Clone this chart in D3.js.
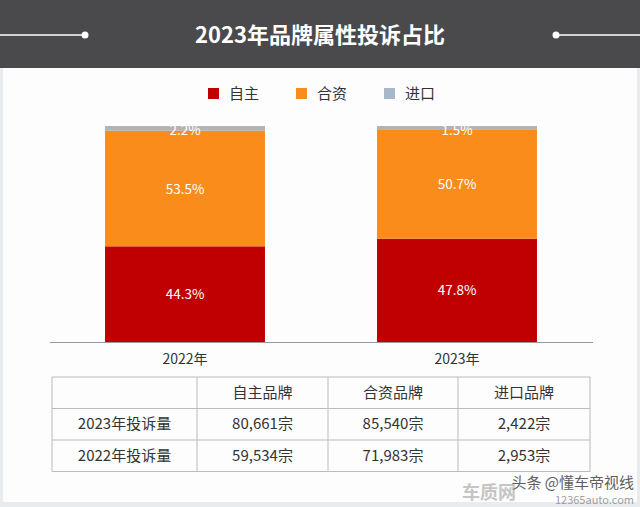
<!DOCTYPE html>
<html><head><meta charset="utf-8">
<script src="https://cdn.jsdelivr.net/npm/d3@7"></script>
<style>html,body{margin:0;padding:0;background:#fff;}svg{display:block;}</style>
</head><body>
<svg id="c" width="640" height="507"></svg>
<script>
const title = "2023年品牌属性投诉占比";
const years = ["2022年", "2023年"];
const seriesNames = ["自主", "合资", "进口"];
const ownShare = [44.3, 47.8];
const jvShare = [53.5, 50.7];
const importShare = [2.2, 1.5];
const colors = ["#C00000", "#FA8C1C", "#A9B8C9"];
const tableHeader = ["", "自主品牌", "合资品牌", "进口品牌"];
const tableRowLabels = ["2023年投诉量", "2022年投诉量"];
const count2023 = ["80,661宗", "85,540宗", "2,422宗"];
const count2022 = ["59,534宗", "71,983宗", "2,953宗"];

const svg = d3.select("#c");
const font = "'Noto Sans CJK SC','Noto Sans',sans-serif";

// background frame
svg.append("rect").attr("x",0).attr("y",0).attr("width",640).attr("height",507).attr("fill","#e9ecef");
svg.append("rect").attr("x",3).attr("y",68).attr("width",634).attr("height",434).attr("fill","#fdfdfd");

// header
svg.append("rect").attr("x",0).attr("y",0).attr("width",640).attr("height",68).attr("fill","#4a4a4c");
svg.append("text").attr("x",320).attr("y",43).attr("text-anchor","middle")
  .attr("font-family",font).attr("font-weight","bold").attr("font-size",22).attr("fill","#fff").text(title);
svg.append("line").attr("x1",0).attr("x2",85).attr("y1",35).attr("y2",35).attr("stroke","#fff").attr("stroke-width",1.5);
svg.append("circle").attr("cx",85).attr("cy",35).attr("r",3.5).attr("fill","#fff");
svg.append("line").attr("x1",556).attr("x2",640).attr("y1",35).attr("y2",35).attr("stroke","#fff").attr("stroke-width",1.5);
svg.append("circle").attr("cx",556).attr("cy",35).attr("r",3.5).attr("fill","#fff");

// legend
const legendX = [208, 296, 384];
seriesNames.forEach((n,i)=>{
  svg.append("rect").attr("x",legendX[i]).attr("y",88).attr("width",11).attr("height",11).attr("fill",colors[i]);
  svg.append("text").attr("x",legendX[i]+21).attr("y",99).attr("font-family",font).attr("font-size",15)
    .attr("fill","#333").text(n);
});

// chart
const x = d3.scaleBand().domain(years).range([49,593]).paddingInner(0.412).paddingOuter(0.206);
const y = d3.scaleLinear().domain([0,100]).range([342,126]);
const rows = years.map((yr,i)=>({year:yr, "自主":ownShare[i], "合资":jvShare[i], "进口":importShare[i]}));
const stack = d3.stack().keys(seriesNames)(rows);
const g = svg.append("g");
stack.forEach((layer,li)=>{
  g.selectAll(null).data(layer).enter().append("rect")
    .attr("x",d=>x(d.data.year)).attr("width",x.bandwidth())
    .attr("y",d=>y(d[1])).attr("height",d=>y(d[0])-y(d[1]))
    .attr("fill",li===2?"#B3B3B3":colors[li]);
});
stack.forEach((layer,li)=>{
  g.selectAll(null).data(layer).enter().append("text")
    .attr("x",d=>x(d.data.year)+x.bandwidth()/2)
    .attr("y",d=> li===2 ? y(d[1])+9 : (y(d[0])+y(d[1]))/2+5)
    .attr("text-anchor","middle").attr("font-family",font).attr("font-size",13.5)
    .attr("fill","#fff").text(d=>(d[1]-d[0]).toFixed(1)+"%");
});
// axis
const ax = svg.append("g").attr("transform","translate(0,342)").call(d3.axisBottom(x).tickSize(0).tickPadding(12));
ax.select(".domain").attr("stroke","#999").attr("d","M50,0.5H593");
ax.selectAll("text").attr("font-family",font).attr("font-size",14).attr("fill","#333");

// table
const colX = [52,197,328,458,590];
const rowY = [377,408.5,440,471.5];
const tbl = svg.append("g");
const tdata = [tableHeader, [tableRowLabels[0], ...count2023], [tableRowLabels[1], ...count2022]];
rowY.forEach(yy=>tbl.append("line").attr("x1",colX[0]).attr("x2",colX[4]).attr("y1",yy).attr("y2",yy).attr("stroke","#bbb"));
colX.forEach(xx=>tbl.append("line").attr("x1",xx).attr("x2",xx).attr("y1",rowY[0]).attr("y2",rowY[3]).attr("stroke","#bbb"));
tdata.forEach((r,ri)=>r.forEach((t,ci)=>{
  tbl.append("text").attr("x",(colX[ci]+colX[ci+1])/2).attr("y",(rowY[ri]+rowY[ri+1])/2+5)
    .attr("text-anchor","middle").attr("font-family",font).attr("font-size",15).attr("fill","#333").text(t);
}));

// watermark
svg.append("text").attr("x",634).attr("y",488).attr("text-anchor","end").attr("font-family",font)
  .attr("font-size",15).attr("fill","#444").attr("opacity",0.85).text("头条 @懂车帝视线");
svg.append("text").attr("x",462).attr("y",499).attr("font-family",font).attr("font-weight","bold")
  .attr("font-size",18).attr("fill","#999").attr("opacity",0.55).text("车质网");
svg.append("text").attr("x",634).attr("y",504).attr("text-anchor","end").attr("font-family",font)
  .attr("font-size",11).attr("fill","#888").attr("opacity",0.8).text("12365auto.com");
</script>
</body></html>
